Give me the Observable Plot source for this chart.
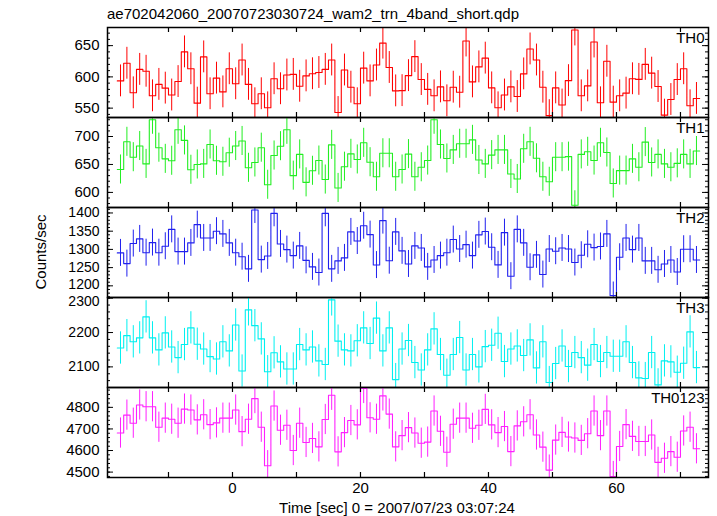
<!DOCTYPE html>
<html><head><meta charset="utf-8">
<script src="https://cdn.jsdelivr.net/npm/d3@7"></script>
<script src="https://cdn.jsdelivr.net/npm/@observablehq/plot@0.6"></script>
<style>
body{margin:0;background:#fff;}
#chart{position:relative;width:717px;height:516px;font-family:"Liberation Sans",Arial,Helvetica,sans-serif;overflow:hidden;background:#fff;}
#chart svg{position:absolute;left:0;}
.t{position:absolute;white-space:nowrap;font-size:15px;color:#000;line-height:1;}
</style></head><body><div id="chart"></div>
<script>
// ---- data (counts/sec, 1-s bins; bin centres in seconds) ----
const times = [-17.5,-16.5,-15.5,-14.5,-13.5,-12.5,-11.5,-10.5,-9.5,-8.5,-7.5,-6.5,-5.5,-4.5,-3.5,-2.5,-1.5,-0.5,
0.5,1.5,2.5,3.5,4.5,5.5,6.5,7.5,8.5,9.5,10.5,11.5,12.5,13.5,14.5,15.5,16.5,17.5,18.5,19.5,20.5,21.5,22.5,23.5,24.5,
25.5,26.5,27.5,28.5,29.5,30.5,31.5,32.5,33.5,34.5,35.5,36.5,37.5,38.5,39.5,40.5,41.5,42.5,43.5,44.5,45.5,46.5,47.5,
48.5,49.5,50.5,51.5,52.5,53.5,54.5,55.5,56.5,57.5,58.5,59.5,60.5,61.5,62.5,63.5,64.5,65.5,66.5,67.5,68.5,69.5,70.5,71.5,72.5];

const th0 = [593.6,621.8,574.5,612,609,569.7,588,582,571,592.5,640,613,558,632,573,598,576,613,589,627,588,557,573,550.5,
597,581,603,604,585,601.6,605,607,612,627,543,611,583.5,557,614,593.6,619,654,615,577.6,578,602,632.4,595.7,580,569.7,
584,561.7,583.5,575.5,657.4,592,616,630,582.4,550.5,571,584,568.6,604.8,644.7,627,583.5,538,582.4,555,594,675,569.7,
585.6,655.8,558.5,625,559.6,569.7,574,597,596,620,606,584.6,538.8,563.8,595.7,613,553.7,565.5];

const th1 = [641,690.5,663,683,651,730,680,660,656.6,712,693,640.5,650,651,685.7,656.6,654.8,671,683,692,644,653.6,680,
613.7,666,682.7,712,630,668,618,638.7,657,623,685,608,646,669,659,688.7,654,628,670,670,628,641,668.5,628,645,657,730,
685.7,660.7,676,687,687,694,658,651,666.7,676,676,633,624,678,690.5,661,628,619,663,663,664,577,668,672.6,657,688.7,
671.4,616,639,639,660,645,690,653.6,668,651,645,652,668,651,674];

const th2 = [1290.4,1261,1316,1328.8,1291,1318.7,1291,1308.7,1355,1294,1294,1317.8,1368,1331.5,1331.5,1350,1342.5,1317.8,
1291,1280,1246.6,1408,1272,1282,1399,1315,1299.5,1283,1309.6,1270,1252,1236.5,1399,1246.6,1268.5,1276.7,1348,1323,1365,
1340.6,1257,1379,1269,1348,1296,1260,1309.6,1304,1252,1271,1283,1291,1327,1301,1313,1283,1340,1349,1306,1257.5,1346,
1226.5,1355,1318,1251,1285,1231,1301,1295,1304,1301,1264,1284,1314,1305,1308,1342.5,1173.5,1278.5,1331.5,1299.5,1331.5,
1268.5,1268.5,1244,1260,1271,1238,1300.5,1300.5,1271];

const th3 = [2155,2191,2173,2184.5,2245.6,2184.5,2149.5,2199,2158,2127,2165,2213.6,2166,2152,2130,2123,2173,2146.6,2222,
2088,2266,2220,2181.5,2086,2141,2114.6,2094,2094,2165,2149.5,2158,2117.5,2107,2295,2175,2149.5,2146.6,2176,2213.6,2168,
2242,2146.6,2213.6,2063,2152,2176.7,2112.6,2091,2149.5,2210.7,2136,2075.7,2136,2185.4,2091,2136,2100,2159,2163,2198,
2115.5,2152,2161,2133,2178.6,2097,2173,2054.4,2109.7,2161,2101,2141.7,2127,2105,2165,2115.5,2141.7,2131,2131,2173,
2112.6,2068,2066,2141.7,2047.6,2117.5,2114.6,2084.5,2110.7,2202,2098];

const th0123 = [4681,4764,4726.6,4811,4803,4803,4708,4750,4745,4726.6,4792,4787.5,4742,4765.6,4720,4728,4750,4750,4787.5,
4687.5,4745,4840.6,4708,4529.7,4806,4694,4717,4600,4726.6,4637.5,4656,4617,4743.8,4856,4593.8,4683,4739,4719,4887.5,
4751.6,4745,4853,4768.8,4617,4669,4706,4681,4634,4639,4783,4689,4592,4722,4750,4750,4703,4717,4790.6,4719,4683,4711,
4595,4714,4733,4765.6,4672,4615.6,4509.4,4648.4,4684,4662.5,4658,4647,4678,4783,4669,4783,4479.7,4618.8,4720,4665.6,
4642,4642,4672,4545.3,4564,4595,4569,4690.6,4708,4608];

// one-sigma error half-widths, per band
const errors = [25.5, 26, 37, 47, 70];
const bandNames = ["TH0", "TH1", "TH2", "TH3", "TH0123"];
const bandValues = [th0, th1, th2, th3, th0123];

// tick labels
const xTickLabels = [0, 20, 40, 60];
const xMajorTicks = [-10, 0, 10, 20, 30, 40, 50, 60, 70];
const yTickLabels = [[550, 600, 650], [600, 650, 700], [1200, 1250, 1300, 1350, 1400], [2100, 2200, 2300], [4500, 4600, 4700, 4800]];

// ---- layout / style ----
const colors = ["#ff0000", "#22ee22", "#2020ee", "#00f0f0", "#ff20ff"];
const yDomains = [[535, 679], [573, 734], [1168, 1415], [2040, 2302], [4475, 4892]];
const minorSteps = [10, 10, 10, 20, 20];
const labelSizes = [15, 15, 14, 14, 15];
const xDomain = [-19.53, 74.38];
const W = 717, ML = 107, MR = 9, PH = 90, TOP = 27;
const innerW = W - ML - MR;

const chart = document.getElementById("chart");
const font = '"Liberation Sans", Arial, Helvetica, sans-serif';

bandNames.forEach((name, i) => {
  const last = i === bandNames.length - 1;
  const mt = 14, mb = last ? 40 : 14;
  const vals = bandValues[i];
  const steps = [];
  vals.forEach((v, j) => { steps.push({x: times[j] - 0.5, y: v}, {x: times[j] + 0.5, y: v}); });
  const bars = vals.map((v, j) => ({x: times[j], y1: v - errors[i], y2: v + errors[i]}));
  const st = minorSteps[i];
  const minors = d3.range(Math.ceil(yDomains[i][0] / st) * st, yDomains[i][1], st);
  const labels = yTickLabels[i];
  // labels that sit right at a panel border are nudged away from the neighbouring panel's label
  const lo = labels[0], hi = labels[labels.length - 1];
  const nudge = v => (i === 2 && v === lo) ? -1 : (i === 3 && v === hi) ? 3 : 0;
  const fs = labelSizes[i];
  const marks = [
    Plot.ruleX(bars, {x: "x", y1: "y1", y2: "y2", stroke: colors[i], strokeWidth: 1, clip: true}),
    Plot.line(steps, {x: "x", y: "y", stroke: colors[i], strokeWidth: 1.1, clip: true}),
    Plot.ruleY(minors, {insetRight: innerW - 3, stroke: "#000"}),
    Plot.ruleY(minors, {insetLeft: innerW - 3, stroke: "#000"}),
    Plot.ruleY(labels, {insetRight: innerW - 6, stroke: "#000"}),
    Plot.ruleY(labels, {insetLeft: innerW - 6, stroke: "#000"}),
    Plot.ruleX(xMajorTicks, {insetBottom: PH - 5, stroke: "#000", strokeWidth: 1.2}),
    Plot.ruleX(xMajorTicks, {insetTop: PH - 5, stroke: "#000", strokeWidth: 1.2}),
    Plot.frame({stroke: "#000", strokeWidth: 1.5}),
    Plot.axisY({ticks: labels.filter(v => nudge(v) === 0), tickFormat: d => String(d), tickSize: 0, tickPadding: 8, label: null, fontSize: fs}),
    Plot.text([name], {text: d => d, frameAnchor: "top-right", textAnchor: "end", lineAnchor: "middle", dx: -4, dy: 11, fontSize: 15, fill: "#000"})
  ];
  labels.filter(v => nudge(v) !== 0).forEach(v => {
    marks.push(Plot.axisY({ticks: [v], tickFormat: d => String(d), tickSize: 0, tickPadding: 8, label: null, fontSize: fs, dy: nudge(v)}));
  });
  if (last) marks.push(Plot.axisX({ticks: xTickLabels, tickFormat: d => String(d), tickSize: 0, tickPadding: 5, label: null, fontSize: 15}));
  const svg = Plot.plot({
    width: W, height: PH + mt + mb,
    marginTop: mt, marginBottom: mb, marginLeft: ML, marginRight: MR,
    x: {domain: xDomain, axis: last ? undefined : null},
    y: {domain: yDomains[i]},
    style: {background: "none", overflow: "visible", fontFamily: font, fontSize: "15px", color: "#000"},
    marks
  });
  svg.style.top = (TOP + PH * i - mt) + "px";
  chart.appendChild(svg);
});

function addText(txt, css) {
  const d = document.createElement("div");
  d.className = "t";
  d.textContent = txt;
  Object.assign(d.style, css);
  chart.appendChild(d);
}
addText("ae702042060_20070723030724_wam2_trn_4band_short.qdp", {left: "107px", top: "6px"});
addText("Time [sec] 0 = 2007/07/23 03:07:24", {left: "397px", top: "500px", transform: "translateX(-50%)"});
addText("Counts/sec", {left: "40px", top: "252px", transform: "translate(-50%,-50%) rotate(-90deg)"});
</script></body></html>
